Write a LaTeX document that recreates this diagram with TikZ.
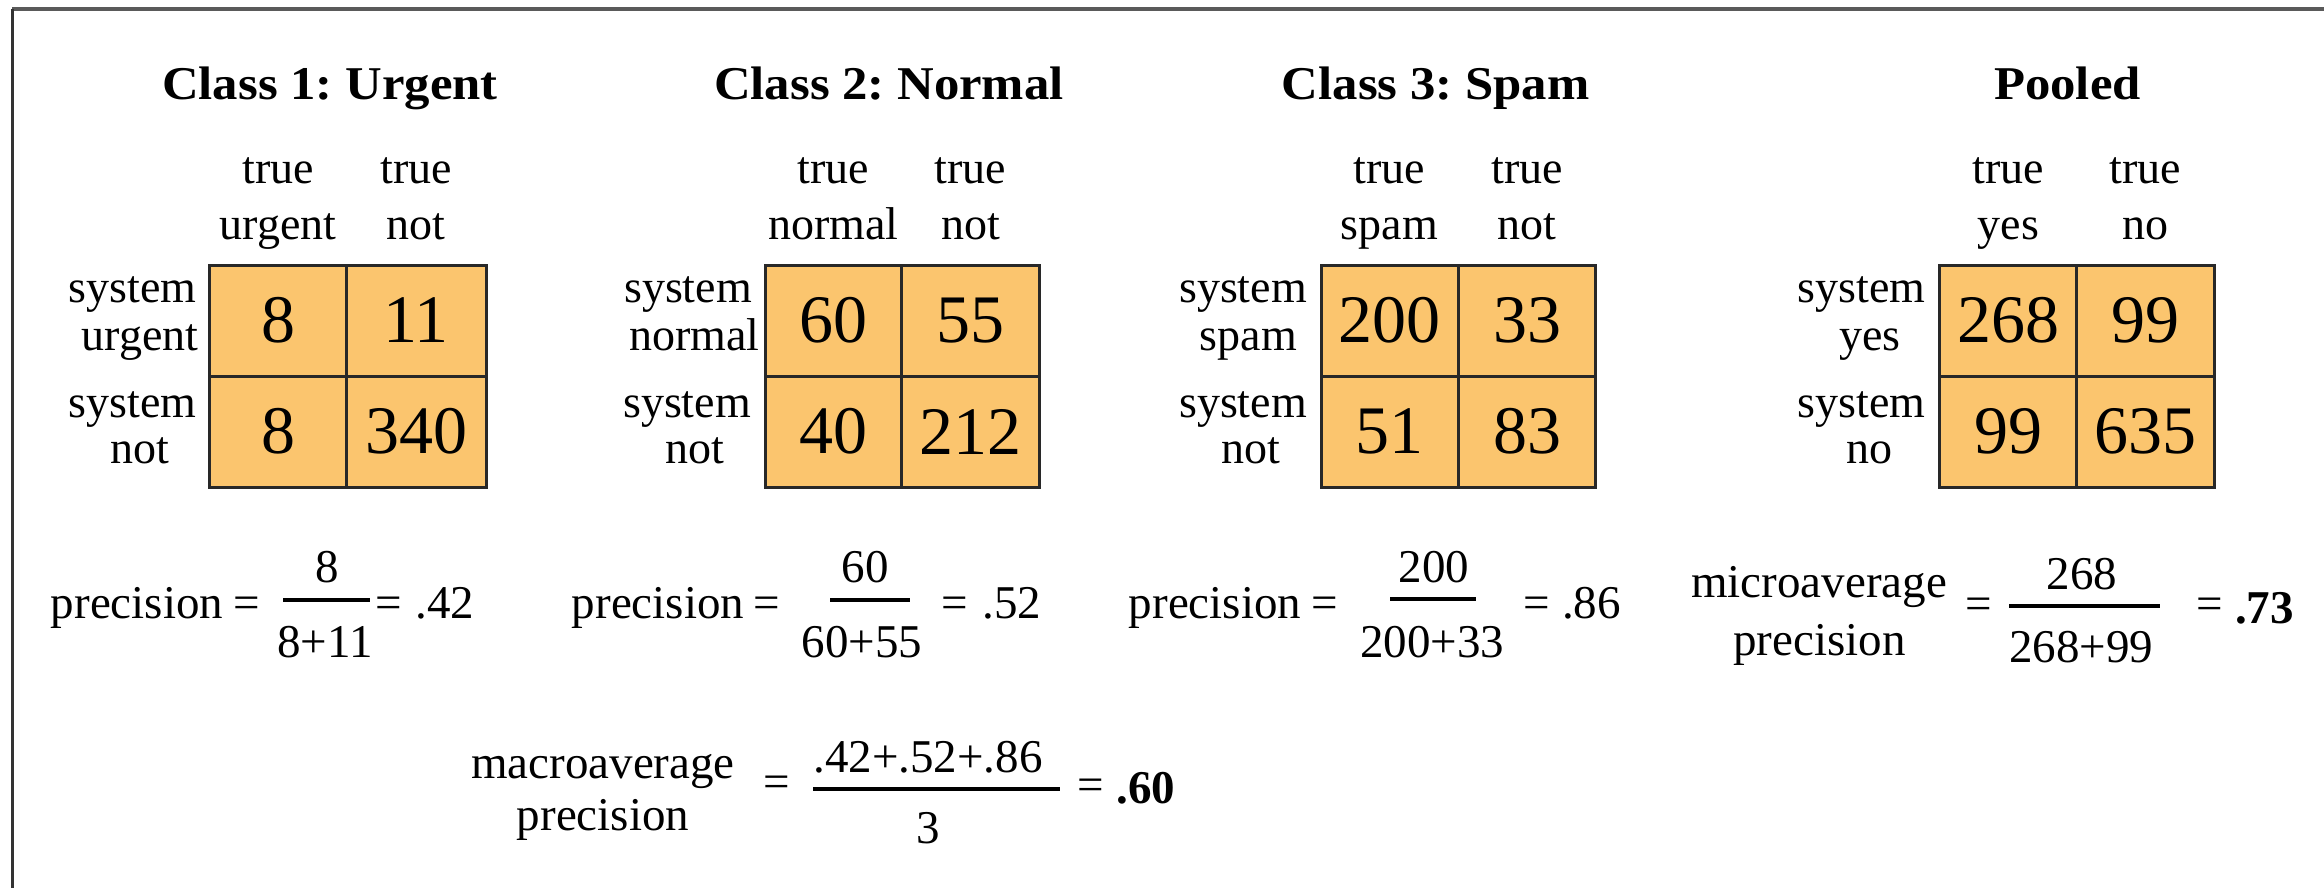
\documentclass[tikz,border=0pt]{standalone}
\usepackage{fontspec}
\setmainfont{Liberation Serif}
\newfontfamily\ttlfam[FakeStretch=1.08]{Liberation Serif}
\newcommand\ttlfont{\ttlfam\fontsize{47}{56}\selectfont\bfseries\frenchspacing}
\newcommand\lblfont{\fontsize{46}{55}\selectfont}
\newcommand\numfont{\fontsize{68}{80}\selectfont}
\newcommand\fmfont{\fontsize{47}{56}\selectfont}
\definecolor{cellfill}{RGB}{251,197,110}
\definecolor{cellline}{RGB}{40,40,40}
\definecolor{framecol}{RGB}{90,90,90}
\tikzset{
  ttl/.style={font=\ttlfont, anchor=base, inner sep=0pt},
  lbl/.style={font=\lblfont, anchor=base, inner sep=0pt},
  fm/.style={font=\fmfont, anchor=base, inner sep=0pt},
  fmb/.style={font=\fmfont\bfseries, anchor=base, inner sep=0pt},
  cell/.style={draw=cellline, fill=cellfill, line width=3pt, minimum width=#1,
    minimum height=111pt, inner sep=0pt, font=\numfont},
  cell/.default=137pt,
  fbar/.style={line width=4pt, black},
}
\begin{document}
\begin{tikzpicture}[x=1pt,y=-1pt]
\fill[white] (0,0) rectangle (2324,888);
\useasboundingbox (0,0) rectangle (2324,888);
% frame
\draw[framecol, line width=3.5pt] (12,9) -- (2324,9);
\draw[black!80, line width=3pt] (12,9) -- (12,888);

% ---------- Class 1 ----------
\node[ttl] (t1) at (330,100) {Class 1: Urgent};
\node[lbl] (h1a) at (278,183) {true};
\node[lbl] (h1b) at (278,239) {urgent};
\node[lbl] (h1c) at (416,183) {true};
\node[lbl] (h1d) at (416,239) {not};
\node[lbl] (r1a) at (132.5,302) {system};
\node[lbl] (r1b) at (140,350) {urgent};
\node[lbl] (r1c) at (132.5,417) {system};
\node[lbl] (r1d) at (140,463) {not};
\node[cell=136.6pt] (c1a) at (278,320.5) {8};
\node[cell=139.7pt] (c1b) at (416.2,320.5) {11};
\node[cell=136.6pt] (c1c) at (278,431.5) {8};
\node[cell=139.7pt] (c1d) at (416.2,431.5) {340};

% ---------- Class 2 ----------
\node[ttl] (t2) at (889,100) {Class 2: Normal};
\node[lbl] (h2a) at (833.5,183) {true};
\node[lbl] (h2b) at (833.5,239) {normal};
\node[lbl] (h2c) at (970.4,183) {true};
\node[lbl] (h2d) at (970.4,239) {not};
\node[lbl] (r2a) at (688,302) {system};
\node[lbl] (r2b) at (694.5,350) {normal};
\node[lbl] (r2c) at (687,417) {system};
\node[lbl] (r2d) at (695,463) {not};
\node[cell=136pt] (c2a) at (833.5,320.5) {60};
\node[cell=137.7pt] (c2b) at (970.4,320.5) {55};
\node[cell=136pt] (c2c) at (833.5,431.5) {40};
\node[cell=137.7pt] (c2d) at (970.4,431.5) {212};

% ---------- Class 3 ----------
\node[ttl] (t3) at (1435.7,100) {Class 3: Spam};
\node[lbl] (h3a) at (1389.5,183) {true};
\node[lbl] (h3b) at (1389.5,239) {spam};
\node[lbl] (h3c) at (1527,183) {true};
\node[lbl] (h3d) at (1527,239) {not};
\node[lbl] (r3a) at (1243,302) {system};
\node[lbl] (r3b) at (1248.5,350) {spam};
\node[lbl] (r3c) at (1243,417) {system};
\node[lbl] (r3d) at (1250.5,463) {not};
\node[cell=137pt] (c3a) at (1389.5,320.5) {200};
\node[cell=137.8pt] (c3b) at (1527,320.5) {33};
\node[cell=137pt] (c3c) at (1389.5,431.5) {51};
\node[cell=137.8pt] (c3d) at (1527,431.5) {83};

% ---------- Pooled ----------
\node[ttl] (t4) at (2067.5,100) {Pooled};
\node[lbl] (h4a) at (2008.3,183) {true};
\node[lbl] (h4b) at (2008.3,239) {yes};
\node[lbl] (h4c) at (2145.5,183) {true};
\node[lbl] (h4d) at (2145.5,239) {no};
\node[lbl] (r4a) at (1861.6,302) {system};
\node[lbl] (r4b) at (1870,350) {yes};
\node[lbl] (r4c) at (1861.6,417) {system};
\node[lbl] (r4d) at (1869,463) {no};
\node[cell=137.3pt] (c4a) at (2008.3,320.5) {268};
\node[cell=137.2pt] (c4b) at (2145.5,320.5) {99};
\node[cell=137.3pt] (c4c) at (2008.3,431.5) {99};
\node[cell=137.2pt] (c4d) at (2145.5,431.5) {635};

% ---------- precision formulas ----------
\node[fm] (p1) at (137,618) {precision};
\node[fm] (p1e) at (246.5,618) {=};
\draw[fbar] (283,600) -- (370,600);
\node[fm] (p1n) at (327,582) {8};
\node[fm] (p1d) at (325,657) {8+11};
\node[fm] (p1f) at (388.5,618) {=};
\node[fm] (p1v) at (445,618) {.42};

\node[fm] (p2) at (658,618) {precision};
\node[fm] (p2e) at (767,618) {=};
\draw[fbar] (830,600) -- (910,600);
\node[fm] (p2n) at (865,582) {60};
\node[fm] (p2d) at (862,657) {60+55};
\node[fm] (p2f) at (954.5,618) {=};
\node[fm] (p2v) at (1012,618) {.52};

\node[fm] (p3) at (1215,618) {precision};
\node[fm] (p3e) at (1325,618) {=};
\draw[fbar] (1390,599) -- (1476,599);
\node[fm] (p3n) at (1434,582) {200};
\node[fm] (p3d) at (1432,657) {200+33};
\node[fm] (p3f) at (1537,618) {=};
\node[fm] (p3v) at (1591.5,618) {.86};

\node[fm] (p4a) at (1819,597) {microaverage};
\node[fm] (p4b) at (1819.5,655) {precision};
\node[fm] (p4e) at (1979,619) {=};
\draw[fbar] (2009,606) -- (2160,606);
\node[fm] (p4n) at (2082,589) {268};
\node[fm] (p4d) at (2081,662) {268+99};
\node[fm] (p4f) at (2210,619) {=};
\node[fmb] (p4v) at (2264.5,623) {.73};

\node[fm] (p5a) at (603,778) {macroaverage};
\node[fm] (p5b) at (603,830) {precision};
\node[fm] (p5e) at (776.5,797) {=};
\draw[fbar] (813,789) -- (1060,789);
\node[fm] (p5n) at (928,772) {.42+.52+.86};
\node[fm] (p5d) at (928,843) {3};
\node[fm] (p5f) at (1090.5,800) {=};
\node[fmb] (p5v) at (1146,803) {.60};
\end{tikzpicture}
\end{document}
